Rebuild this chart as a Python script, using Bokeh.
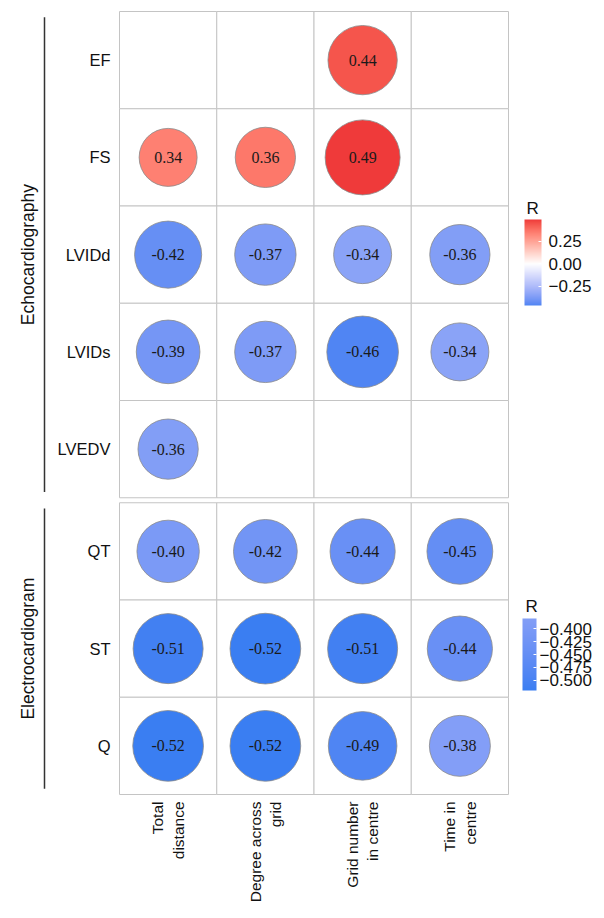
import numpy as np
from bokeh.plotting import figure
from bokeh.models import (ColumnDataSource, LinearColorMapper, ColorBar, FixedTicker,
                          CustomJSTickFormatter, Range1d, AllLabels)
from bokeh.core.properties import value
from bokeh.embed import file_html
from bokeh.resources import INLINE

# ---------------- data ----------------
columns = ["Total\ndistance", "Degree across\ngrid", "Grid number\nin centre", "Time in\ncentre"]
echo_rows = ["EF", "FS", "LVIDd", "LVIDs", "LVEDV"]
ecg_rows = ["QT", "ST", "Q"]
echo_group = "Echocardiography"
ecg_group = "Electrocardiogram"

echo_R = [
    [None, None, 0.44, None],
    [0.34, 0.36, 0.49, None],
    [-0.42, -0.37, -0.34, -0.36],
    [-0.39, -0.37, -0.46, -0.34],
    [-0.36, None, None, None],
]
ecg_R = [
    [-0.40, -0.42, -0.44, -0.45],
    [-0.51, -0.52, -0.51, -0.44],
    [-0.52, -0.52, -0.49, -0.38],
]
echo_ticks = [-0.25, 0.0, 0.25]
ecg_ticks = [-0.500, -0.475, -0.450, -0.425, -0.400]
legend_title = "R"

LOW = "#3A7EF2"
HIGH = "#EF3A3A"
MID = "#FFFFFF"

# ---------------- colour helpers (Lab interpolation like ggplot) ----------------
_M = np.array([[0.4124564, 0.3575761, 0.1804375],
               [0.2126729, 0.7151522, 0.0721750],
               [0.0193339, 0.1191920, 0.9503041]])
_Minv = np.linalg.inv(_M)
_WP = np.array([0.95047, 1.0, 1.08883])


def _hex2lab(h):
    rgb = np.array([int(h[i:i + 2], 16) / 255 for i in (1, 3, 5)])
    lin = np.where(rgb <= 0.04045, rgb / 12.92, ((rgb + 0.055) / 1.055) ** 2.4)
    xyz = _M @ lin / _WP
    d = 6 / 29
    f = np.where(xyz > d ** 3, np.cbrt(xyz), xyz / (3 * d * d) + 4 / 29)
    return np.array([116 * f[1] - 16, 500 * (f[0] - f[1]), 200 * (f[1] - f[2])])


def _lab2hex(lab):
    L, a, b = lab
    fy = (L + 16) / 116
    fx = fy + a / 500
    fz = fy - b / 200
    d = 6 / 29
    f = np.array([fx, fy, fz])
    xyz = np.where(f > d, f ** 3, 3 * d * d * (f - 4 / 29)) * _WP
    lin = _Minv @ xyz
    rgb = np.where(lin <= 0.0031308, 12.92 * lin, 1.055 * np.clip(lin, 0, None) ** (1 / 2.4) - 0.055)
    rgb = np.clip(np.round(rgb * 255), 0, 255).astype(int)
    return "#%02x%02x%02x" % tuple(rgb)


_lo, _mi, _hi = _hex2lab(LOW), _hex2lab(MID), _hex2lab(HIGH)


def grad2(v, maxabs):
    t = 0.5 + v / (2 * maxabs)
    if t < 0.5:
        u = t / 0.5
        return _lab2hex(_lo + (_mi - _lo) * u)
    u = (t - 0.5) / 0.5
    return _lab2hex(_mi + (_hi - _mi) * u)


# ---------------- geometry (page pixels -> data units) ----------------
S = 97.25            # px per cell
W, H = 604, 918
X0, Y0 = 119, 794    # page position of the grid's bottom-left corner
GAP = 5 / S
n_ecg = len(ecg_rows)
n_echo = len(echo_rows)
ecg_base = 0.0
echo_base = n_ecg + GAP


def px_x(X):
    return (X - X0) / S


def px_y(Y):
    return (Y0 - Y) / S


p = figure(width=W, height=H, output_backend="svg", toolbar_location=None,
           x_range=Range1d(px_x(0), px_x(W)), y_range=Range1d(px_y(H), px_y(0)),
           x_axis_location=None, y_axis_location=None, min_border=0,
           outline_line_color=None, background_fill_color="white", border_fill_color="white")
p.xgrid.visible = False
p.ygrid.visible = False


def panel(rows, R, base, dmin, dmax):
    n = len(rows)
    cx, cy = [], []
    for i in range(n):
        for j in range(len(columns)):
            cx.append(j + 0.5)
            cy.append(base + n - i - 0.5)
    p.rect(x=cx, y=cy, width=1, height=1, fill_color="white",
           line_color="#C4C4C4", line_width=1)
    vals = [v for row in R for v in row if v is not None]
    maxabs = max(abs(v) for v in vals)
    amin = min(abs(v) for v in vals)
    xs, ys, cols, sizes, labs = [], [], [], [], []
    for i, row in enumerate(R):
        for j, v in enumerate(row):
            if v is None:
                continue
            xs.append(j + 0.5)
            ys.append(base + n - i - 0.5)
            cols.append(grad2(v, maxabs))
            sizes.append(dmin + (dmax - dmin) * (abs(v) - amin) / (maxabs - amin))
            labs.append("%.2f" % v)
    src = ColumnDataSource(dict(x=xs, y=ys, c=cols, s=sizes, t=labs))
    p.scatter("x", "y", source=src, size="s", marker="circle", fill_color="c",
              line_color="#8a8a8a", line_width=0.8)
    p.text("x", "y", text="t", source=src, text_align="center", text_baseline="middle",
           text_font=value("Liberation Serif"), text_font_size="16px", text_color="#1a1a1a")
    # row labels
    p.text(x=[px_x(110)] * n, y=[base + n - i - 0.5 for i in range(n)], text=rows,
           text_align="right", text_baseline="middle", text_font=value("Liberation Sans"),
           text_font_size="16.5px", text_color="#111111")
    return vals, maxabs


echo_vals, echo_max = panel(echo_rows, echo_R, echo_base, 58, 75)
ecg_vals, ecg_max = panel(ecg_rows, ecg_R, ecg_base, 61, 70.7)

# group labels and brackets
inset = 0.06
p.text(x=[px_x(27)] * 2, y=[echo_base + n_echo / 2, ecg_base + n_ecg / 2],
       text=[echo_group, ecg_group], angle=np.pi / 2, text_align="center",
       text_baseline="middle", text_font=value("Liberation Sans"), text_font_size="17.5px",
       text_color="#111111")
p.segment(x0=[px_x(44)] * 2, x1=[px_x(44)] * 2,
          y0=[echo_base + inset, ecg_base + inset],
          y1=[echo_base + n_echo - inset, ecg_base + n_ecg - inset],
          line_color="#333333", line_width=1.5)

# column labels
p.text(x=[j + 0.5 for j in range(len(columns))], y=[px_y(801)] * len(columns), text=columns,
       angle=np.pi / 2, text_align="right", text_baseline="middle",
       text_font=value("Liberation Sans"), text_font_size="15.5px", text_color="#111111")


# colour bars
def make_bar(vals, maxabs, ticks, digits, loc, w, h, standoff):
    lo, hi = min(vals), max(vals)
    pal = [grad2(v, maxabs) for v in np.linspace(lo, hi, 256)]
    mapper = LinearColorMapper(palette=pal, low=lo, high=hi)
    fmt = CustomJSTickFormatter(code="const s = Math.abs(tick).toFixed(%d); return tick < -1e-9 ? '\\u2212' + s : s;" % digits)
    cb = ColorBar(color_mapper=mapper, location=loc, orientation="vertical", width=w, height=h,
                  padding=0, margin=0,
                  major_label_text_font_size="17px", major_label_text_font="Liberation Sans",
                  major_label_text_color="#111111", label_standoff=standoff,
                  major_label_policy=AllLabels(),
                  ticker=FixedTicker(ticks=ticks), formatter=fmt,
                  major_tick_line_color="white", major_tick_in=3, major_tick_out=0,
                  minor_tick_line_color=None, bar_line_color=None,
                  background_fill_color=None, border_line_color=None)
    p.add_layout(cb, "center")


make_bar(echo_vals, echo_max, echo_ticks, 2, (524, H - 305), 17, 86, 7)
make_bar(ecg_vals, ecg_max, ecg_ticks, 3, (522, H - 690), 14, 72, 3)

p.text(x=[px_x(526), px_x(525)], y=[px_y(208), px_y(606)], text=[legend_title] * 2,
       text_align="left", text_baseline="middle", text_font=value("Liberation Sans"),
       text_font_size="17px", text_color="#111111")

open("out.html", "w").write(file_html(p, INLINE))
